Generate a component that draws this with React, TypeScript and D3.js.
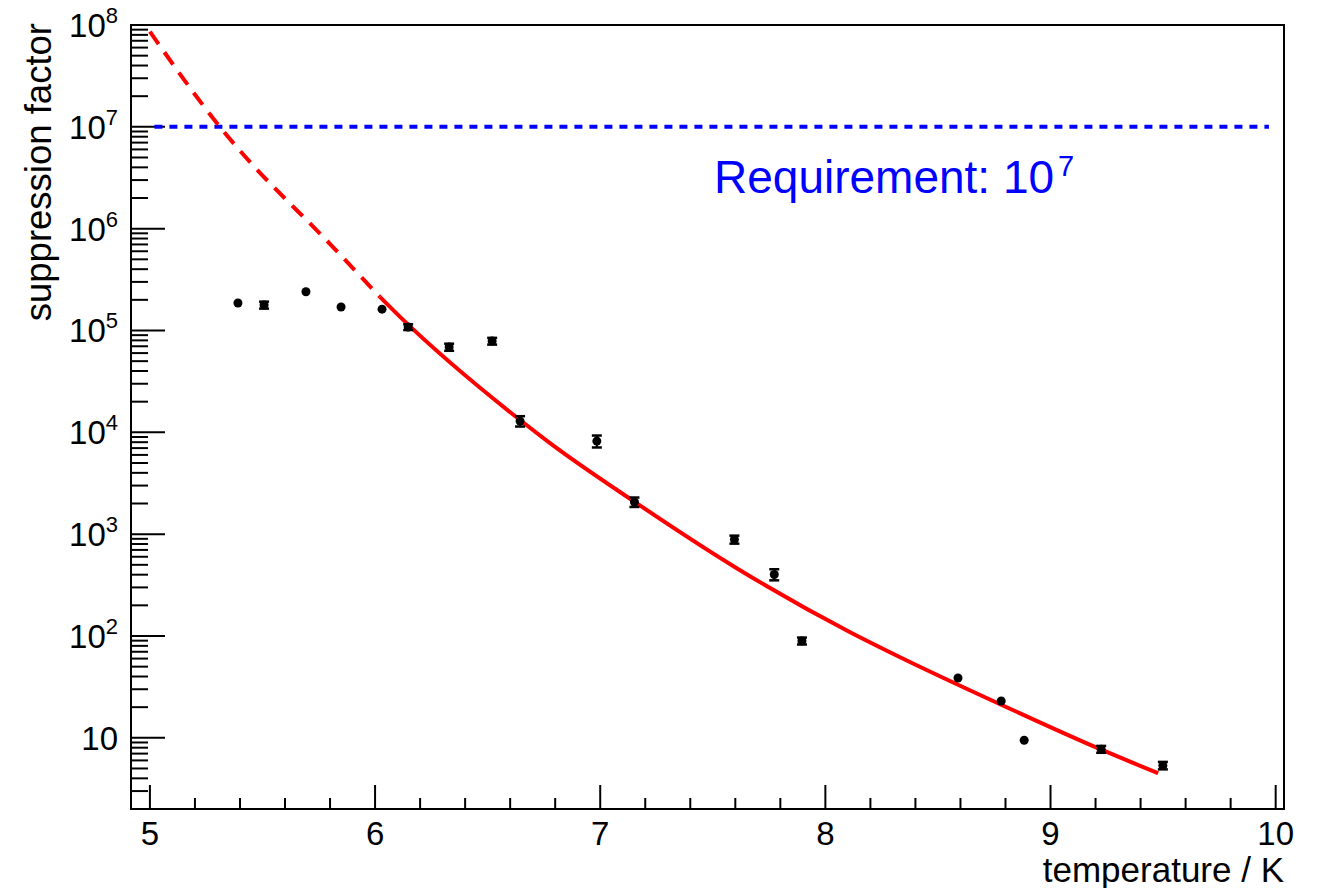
import React, { useEffect, useRef } from "react";
import * as d3 from "d3";

// measured points
const temperature = [5.391, 5.507, 5.693, 5.849, 6.031, 6.147, 6.329, 6.52, 6.644, 6.985, 7.152, 7.596, 7.773, 7.896, 8.589, 8.781, 8.883, 9.225, 9.499];
const suppression = [1.86e5, 1.78e5, 2.4e5, 1.7e5, 1.62e5, 1.08e5, 6.87e4, 7.87e4, 1.29e4, 8.2e3, 2.07e3, 887, 402, 89.5, 38.7, 23.0, 9.46, 7.73, 5.35];
const suppressionErr = [0, 1.4e4, 0, 0, 0, 7e3, 5.5e3, 6e3, 1.5e3, 1.1e3, 220, 80, 50, 7, 0, 0, 0, 0.6, 0.45];

// fit curve (dashed = extrapolation below 6.02 K)
const fitT = [5.0, 5.311, 5.369, 5.813, 6.022, 6.111, 6.644, 6.777, 7.155, 7.599, 8.11, 8.332, 8.776, 9.221, 9.478];
const fitS = [8.6e7, 1.0e7, 7.0e6, 6.6e5, 2.13e5, 1.36e5, 1.32e4, 7.83e3, 2.06e3, 474, 109, 61.9, 21.4, 7.73, 4.49];
const fitSplit = 4;

const requirement = 1e7;
const xTicks = [5, 6, 7, 8, 9, 10];
const yExponents = [1, 2, 3, 4, 5, 6, 7, 8];

const App = () => {
  const svgRef = useRef(null);

  useEffect(() => {
    const svg = d3.select(svgRef.current);
    svg.selectAll("*").remove();

    const left = 131, right = 1284, top = 25, bottom = 809;
    const font = "'Liberation Sans', Arial, sans-serif";

    const x = d3.scaleLinear().domain([4.916, 10.037]).range([left, right]);
    const y = d3.scaleLog().domain([2, 1e8]).range([bottom, top]);

    // x ticks (inside, from bottom)
    const xMinor = d3.range(50, 101, 2).map((d) => d / 10);
    svg
      .append("g")
      .selectAll("line")
      .data(xMinor)
      .enter()
      .append("line")
      .attr("x1", (d) => x(d))
      .attr("x2", (d) => x(d))
      .attr("y1", bottom)
      .attr("y2", (d) => (Math.abs(d - Math.round(d)) < 1e-6 ? bottom - 24 : bottom - 11))
      .attr("stroke", "black")
      .attr("stroke-width", 2);

    svg
      .append("g")
      .selectAll("text")
      .data(xTicks)
      .enter()
      .append("text")
      .attr("x", (d) => x(d))
      .attr("y", 845)
      .attr("text-anchor", "middle")
      .attr("font-family", font)
      .attr("font-size", 33)
      .text((d) => d);

    // y ticks
    const yMinor = [];
    for (let e = 0; e <= 7; e++) {
      for (let m = 1; m <= 9; m++) {
        const v = m * Math.pow(10, e);
        if (v >= 2 && v <= 1e8) yMinor.push(v);
      }
    }
    yMinor.push(1e8);
    svg
      .append("g")
      .selectAll("line")
      .data(yMinor)
      .enter()
      .append("line")
      .attr("x1", left)
      .attr("x2", (d) => (Math.abs(Math.log10(d) - Math.round(Math.log10(d))) < 1e-9 ? left + 34 : left + 17))
      .attr("y1", (d) => y(d))
      .attr("y2", (d) => y(d))
      .attr("stroke", "black")
      .attr("stroke-width", 2);

    const yLab = svg
      .append("g")
      .selectAll("text")
      .data(yExponents)
      .enter()
      .append("text")
      .attr("x", 118)
      .attr("y", (d) => y(Math.pow(10, d)) + 12)
      .attr("text-anchor", "end")
      .attr("font-family", font)
      .attr("font-size", 33);
    yLab.append("tspan").text("10");
    yLab
      .filter((d) => d > 1)
      .append("tspan")
      .attr("font-size", 22)
      .attr("dy", -14)
      .text((d) => d);

    // frame
    svg
      .append("rect")
      .attr("x", left)
      .attr("y", top)
      .attr("width", right - left)
      .attr("height", bottom - top)
      .attr("fill", "none")
      .attr("stroke", "black")
      .attr("stroke-width", 2);

    // requirement line
    svg
      .append("line")
      .attr("x1", x(5.02))
      .attr("x2", x(9.97))
      .attr("y1", y(requirement))
      .attr("y2", y(requirement))
      .attr("stroke", "#0000ff")
      .attr("stroke-width", 4)
      .attr("stroke-dasharray", "8,7");

    const req = svg
      .append("text")
      .attr("x", 714)
      .attr("y", 193)
      .attr("fill", "#0000ff")
      .attr("font-family", font)
      .attr("font-size", 46);
    req.append("tspan").text("Requirement: 10");
    req.append("tspan").attr("font-size", 29).attr("dy", -17).attr("dx", 4).text("7");

    // fit
    const pts = fitT.map((t, i) => [t, fitS[i]]);
    const line = d3
      .line()
      .x((d) => x(d[0]))
      .y((d) => y(d[1]))
      .curve(d3.curveMonotoneX);
    svg
      .append("path")
      .attr("d", line(pts.slice(0, fitSplit + 1)))
      .attr("fill", "none")
      .attr("stroke", "#ff0000")
      .attr("stroke-width", 4)
      .attr("stroke-dasharray", "15,10");
    svg
      .append("path")
      .attr("d", line(pts.slice(fitSplit)))
      .attr("fill", "none")
      .attr("stroke", "#ff0000")
      .attr("stroke-width", 4);

    // data with error bars
    const data = temperature.map((t, i) => ({ t, s: suppression[i], e: suppressionErr[i] }));
    const g = svg.append("g").selectAll("g").data(data).enter().append("g");
    g.filter((d) => d.e > 0)
      .append("line")
      .attr("x1", (d) => x(d.t))
      .attr("x2", (d) => x(d.t))
      .attr("y1", (d) => y(d.s - d.e))
      .attr("y2", (d) => y(d.s + d.e))
      .attr("stroke", "black")
      .attr("stroke-width", 2);
    [-1, 1].forEach((sgn) => {
      g.filter((d) => d.e > 0)
        .append("line")
        .attr("x1", (d) => x(d.t) - 5)
        .attr("x2", (d) => x(d.t) + 5)
        .attr("y1", (d) => y(d.s + sgn * d.e))
        .attr("y2", (d) => y(d.s + sgn * d.e))
        .attr("stroke", "black")
        .attr("stroke-width", 2.5);
    });
    g.append("circle")
      .attr("cx", (d) => x(d.t))
      .attr("cy", (d) => y(d.s))
      .attr("r", 4.5)
      .attr("fill", "black");

    // axis titles
    svg
      .append("text")
      .attr("x", right)
      .attr("y", 882)
      .attr("text-anchor", "end")
      .attr("font-family", font)
      .attr("font-size", 35)
      .text("temperature / K");
    svg
      .append("text")
      .attr("transform", "translate(51," + (top - 2) + ") rotate(-90)")
      .attr("text-anchor", "end")
      .attr("font-family", font)
      .attr("font-size", 36.5)
      .text("suppression factor");
  }, []);

  return (
    <div style={{ position: "absolute", left: 0, top: 0 }}>
      <svg ref={svgRef} width={1317} height={888} style={{ display: "block", background: "white" }}></svg>
    </div>
  );
};

export default App;
